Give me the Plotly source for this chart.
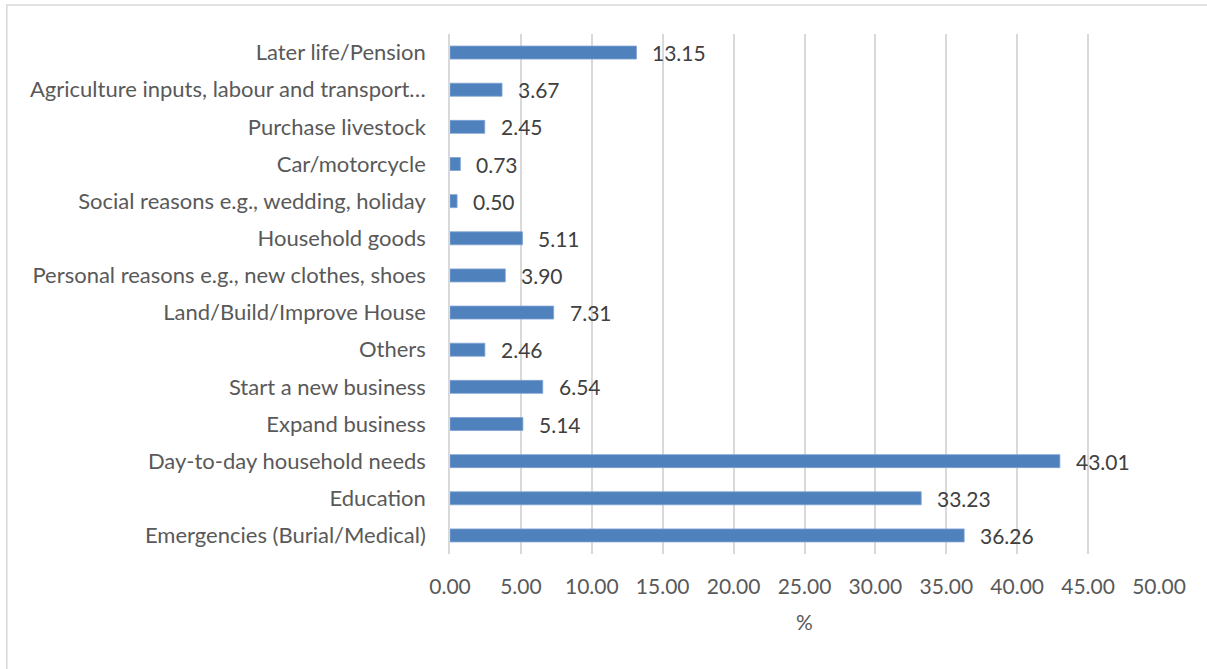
import plotly.graph_objects as go

# Reasons for saving, listed top to bottom
categories = [
    "Later life/Pension",
    "Agriculture inputs, labour and transport…",
    "Purchase livestock",
    "Car/motorcycle",
    "Social reasons e.g., wedding, holiday",
    "Household goods",
    "Personal reasons e.g., new clothes, shoes",
    "Land/Build/Improve House",
    "Others",
    "Start a new business",
    "Expand business",
    "Day-to-day household needs",
    "Education",
    "Emergencies (Burial/Medical)",
]
percent = [13.15, 3.67, 2.45, 0.73, 0.50, 5.11, 3.90, 7.31, 2.46, 6.54, 5.14, 43.01, 33.23, 36.26]

FONT = "Lato"
W, H = 1207, 669
L, R, T, B = 449.5, 48, 34, 115

fig = go.Figure()
fig.add_trace(go.Bar(
    x=percent,
    y=categories,
    orientation="h",
    width=0.35,
    marker=dict(color="#4f81bd", line=dict(color="#7fa3d3", width=0.8)),
    hoverinfo="x+y",
))

# value labels just right of each bar end
for c, v in zip(categories, percent):
    fig.add_annotation(
        x=v, y=c, xref="x", yref="y",
        text=f"{v:.2f}", showarrow=False,
        xanchor="left", yanchor="middle", xshift=14,
        font=dict(family=FONT, size=21, color="#404040"),
    )

pw = W - L - R
ph = H - T - B
# thin outer frame of the chart area
fig.add_shape(
    type="rect", xref="paper", yref="paper",
    x0=(6 - L) / pw, x1=(W + 20 - L) / pw,
    y0=1 - (H + 20 - T) / ph, y1=1 - (5 - T) / ph,
    line=dict(color="#d9d9d9", width=1.5), fillcolor="rgba(0,0,0,0)", layer="below",
)

fig.update_layout(
    width=W, height=H,
    margin=dict(l=L, r=R, t=T, b=B, pad=0),
    paper_bgcolor="white", plot_bgcolor="white",
    showlegend=False,
    bargap=0.65,
    font=dict(family=FONT, size=21, color="#595959"),
    xaxis=dict(
        range=[0, 50], dtick=5, tickformat=".2f",
        showgrid=True, gridcolor="#d9d9d9", gridwidth=1.5,
        zeroline=False, showline=False, ticks="",
        ticklabelstandoff=18,
        tickfont=dict(family=FONT, size=21, color="#595959"),
        title=dict(text="%", font=dict(family=FONT, size=21, color="#595959"), standoff=18),
        fixedrange=True,
    ),
    yaxis=dict(
        autorange="reversed", type="category",
        showgrid=False, zeroline=False,
        showline=True, linecolor="#d9d9d9", linewidth=1.5,
        ticks="", ticklabelstandoff=18,
        tickfont=dict(family=FONT, size=22, color="#595959"),
        fixedrange=True,
    ),
)

fig.write_html("out.html")
